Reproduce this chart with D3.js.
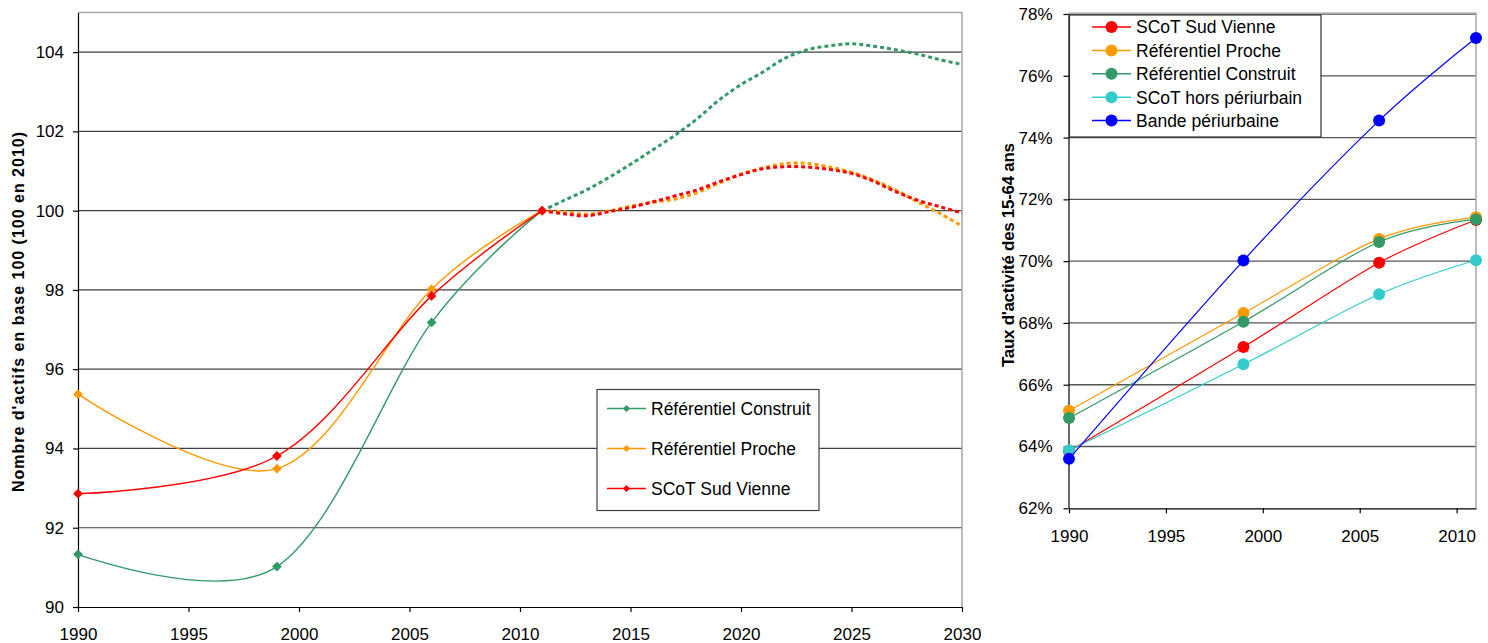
<!DOCTYPE html>
<html>
<head>
<meta charset="utf-8">
<script src="https://cdn.jsdelivr.net/npm/d3@7"></script>
<style>
  html, body { margin: 0; padding: 0; background: #fff; }
  svg { display: block; font-family: "Liberation Sans", Arial, sans-serif; }
</style>
</head>
<body>
<svg id="chart" width="1488" height="643"></svg>
<script>
// ---------- Left panel: number of workers, base 100 ----------
const censusYears = [1990, 1999, 2006, 2011];
const projectionYears = [2011, 2012, 2013, 2014, 2015, 2016, 2017, 2018, 2019, 2020,
                         2021, 2022, 2023, 2024, 2025, 2026, 2027, 2028, 2029, 2030];
const leftNames = ["Référentiel Construit", "Référentiel Proche", "SCoT Sud Vienne"];
const construitObserved = [91.33, 91.02, 97.18, 100];
const procheObserved    = [95.37, 93.49, 98.02, 100];
const scotObserved      = [92.86, 93.81, 97.85, 100];
const construitProjected = [100, 100.26, 100.52, 100.83, 101.17, 101.53, 101.90, 102.31, 102.79, 103.18,
                            103.50, 103.85, 104.06, 104.16, 104.21, 104.15, 104.06, 103.95, 103.81, 103.69];
const procheProjected    = [100, 99.97, 99.91, 99.99, 100.11, 100.21, 100.29, 100.45, 100.69, 100.92,
                            101.08, 101.19, 101.19, 101.10, 100.97, 100.77, 100.52, 100.22, 99.93, 99.61];
const scotProjected      = [100, 99.92, 99.87, 99.97, 100.08, 100.22, 100.37, 100.52, 100.73, 100.91,
                            101.06, 101.11, 101.10, 101.04, 100.94, 100.74, 100.48, 100.26, 100.10, 99.94];
const leftYTicks = [90, 92, 94, 96, 98, 100, 102, 104];
const leftXTicks = [1990, 1995, 2000, 2005, 2010, 2015, 2020, 2025, 2030];
const leftTitle = "Nombre d'actifs en base 100 (100 en 2010)";

// ---------- Right panel: activity rate of 15-64 year olds ----------
const rateYears = [1990, 1999, 2006, 2011];
const rightNames = ["SCoT Sud Vienne", "Référentiel Proche", "Référentiel Construit",
                    "SCoT hors périurbain", "Bande périurbaine"];
const rateScot      = [63.85, 67.22, 69.95, 71.33];
const rateProche    = [65.16, 68.32, 70.72, 71.42];
const rateConstruit = [64.92, 68.04, 70.62, 71.35];
const rateHorsPeri  = [63.87, 66.66, 68.93, 70.03];
const rateBande     = [63.60, 70.02, 74.55, 77.22];
const rightYTicks = [62, 64, 66, 68, 70, 72, 74, 76, 78];
const rightXTicks = [1990, 1995, 2000, 2005, 2010];
const rightTitle = "Taux d'activité des 15-64 ans";

// ---------- shared styling ----------
const RED = "#ff0000", ORANGE = "#ff9900", GREEN = "#339966", TEAL = "#33cccc", BLUE = "#0000ff";
const FONT = 17;

const svg = d3.select("#chart");
const smooth = d3.curveCardinal.tension(0);

function styleAxis(g, fontSize) {
  g.select(".domain").attr("stroke", "#000").attr("stroke-width", 1.2);
  g.selectAll(".tick line").attr("stroke", "#000").attr("stroke-width", 1.2);
  g.selectAll(".tick text").attr("fill", "#000").attr("font-size", fontSize)
    .attr("font-family", '"Liberation Sans", Arial, sans-serif');
}

// ================= LEFT PANEL =================
const L = { x0: 78, x1: 962, top: 105, y1: 607 };
const xL = d3.scaleLinear().domain([1990, 2030]).range([L.x0, L.x1]);
const yL = d3.scaleLinear().domain([90, 105]).range([L.y1, 12.5]);

const gL = svg.append("g");

gL.selectAll("line.grid").data(leftYTicks.filter(v => v > 90)).join("line")
  .attr("class", "grid")
  .attr("x1", L.x0).attr("x2", L.x1)
  .attr("y1", d => yL(d)).attr("y2", d => yL(d))
  .attr("stroke", "#404040").attr("stroke-width", 1.2);

gL.append("path")
  .attr("d", `M${L.x0},${yL(L.top)}H${L.x1}V${L.y1}`)
  .attr("fill", "none").attr("stroke", "#a6a6a6").attr("stroke-width", 1.5);

gL.append("g").attr("transform", `translate(${L.x0},0)`)
  .call(d3.axisLeft(yL).tickValues(leftYTicks).tickSize(5).tickSizeOuter(0).tickPadding(9)
    .tickFormat(d3.format("d")))
  .call(g => styleAxis(g, FONT));

gL.append("g").attr("transform", `translate(0,${L.y1})`)
  .call(d3.axisBottom(xL).tickValues(leftXTicks).tickSize(5).tickSizeOuter(0).tickPadding(16)
    .tickFormat(d3.format("d")))
  .call(g => styleAxis(g, FONT));

gL.append("text")
  .attr("transform", `translate(24,312) rotate(-90)`)
  .attr("text-anchor", "middle")
  .attr("font-weight", "bold").attr("font-size", 16)
  .attr("textLength", 360).attr("lengthAdjust", "spacing")
  .text(leftTitle);

const leftSeries = [
  { name: leftNames[0], color: GREEN,  obs: construitObserved, proj: construitProjected },
  { name: leftNames[1], color: ORANGE, obs: procheObserved,    proj: procheProjected },
  { name: leftNames[2], color: RED,    obs: scotObserved,      proj: scotProjected }
];
const lineL = d3.line().curve(smooth).x(d => xL(d[0])).y(d => yL(d[1]));
const diamond = size => d3.symbol(d3.symbolSquare, size)();

leftSeries.forEach(s => {
  const g = gL.append("g");
  g.append("path").datum(d3.zip(projectionYears, s.proj))
    .attr("d", lineL).attr("fill", "none")
    .attr("stroke", s.color).attr("stroke-width", 3).attr("stroke-dasharray", "4 3");
  g.append("path").datum(d3.zip(censusYears, s.obs))
    .attr("d", lineL).attr("fill", "none")
    .attr("stroke", s.color).attr("stroke-width", 1.4);
  g.selectAll("path.mk").data(d3.zip(censusYears, s.obs)).join("path")
    .attr("class", "mk")
    .attr("d", diamond(48))
    .attr("transform", d => `translate(${xL(d[0])},${yL(d[1])}) rotate(45)`)
    .attr("fill", s.color);
});

// legend (left)
const legL = gL.append("g");
legL.append("rect").attr("x", 597).attr("y", 389.5).attr("width", 222).attr("height", 121)
  .attr("fill", "#fff").attr("stroke", "#404040").attr("stroke-width", 1.2);
leftSeries.forEach((s, i) => {
  const yy = 408.5 + i * 40;
  legL.append("line").attr("x1", 607).attr("x2", 646).attr("y1", yy).attr("y2", yy)
    .attr("stroke", s.color).attr("stroke-width", 1.5);
  legL.append("path").attr("d", diamond(26))
    .attr("transform", `translate(626.5,${yy}) rotate(45)`).attr("fill", s.color);
  legL.append("text").attr("x", 651).attr("y", yy + 6.3)
    .attr("font-size", 17.5).attr("fill", "#000").text(s.name);
});

// ================= RIGHT PANEL =================
const R = { x0: 1068.5, x1: 1476 };
const xR = d3.scaleLinear().domain([1990, 2011]).range([1069, 1476]);
const yR = d3.scaleLinear().domain([62, 78]).range([508.3, 14]);

const gR = svg.append("g");

gR.selectAll("line.grid").data(rightYTicks.filter(v => v > 62)).join("line")
  .attr("class", "grid")
  .attr("x1", R.x0).attr("x2", R.x1)
  .attr("y1", d => yR(d)).attr("y2", d => yR(d))
  .attr("stroke", "#555").attr("stroke-width", 1.3);

gR.append("path")
  .attr("d", `M${R.x0},${yR(78) - 0.8}H${R.x1}V${yR(62)}`)
  .attr("fill", "none").attr("stroke", "#a6a6a6").attr("stroke-width", 1.5);

gR.append("g").attr("transform", `translate(${R.x0},0)`)
  .call(d3.axisLeft(yR).tickValues(rightYTicks).tickSize(5).tickSizeOuter(0).tickPadding(11)
    .tickFormat(d => d + "%"))
  .call(g => styleAxis(g, FONT));

gR.append("g").attr("transform", `translate(0,${yR(62)})`)
  .call(d3.axisBottom(xR).tickValues(rightXTicks).tickSize(5).tickSizeOuter(0).tickPadding(16.5)
    .tickFormat(d3.format("d")))
  .call(g => styleAxis(g, FONT));

gR.append("text")
  .attr("transform", `translate(1014,255) rotate(-90)`)
  .attr("text-anchor", "middle")
  .attr("font-weight", "bold").attr("font-size", 17)
  .attr("textLength", 224).attr("lengthAdjust", "spacing")
  .text(rightTitle);

const rightSeries = [
  { name: rightNames[0], color: RED,    values: rateScot },
  { name: rightNames[1], color: ORANGE, values: rateProche },
  { name: rightNames[2], color: GREEN,  values: rateConstruit },
  { name: rightNames[3], color: TEAL,   values: rateHorsPeri },
  { name: rightNames[4], color: BLUE,   values: rateBande }
];
const lineR = d3.line().curve(smooth).x(d => xR(d[0])).y(d => yR(d[1]));

rightSeries.forEach(s => {
  const g = gR.append("g");
  g.append("path").datum(d3.zip(rateYears, s.values))
    .attr("d", lineR).attr("fill", "none")
    .attr("stroke", s.color).attr("stroke-width", 1.2);
  g.selectAll("circle").data(d3.zip(rateYears, s.values)).join("circle")
    .attr("cx", d => xR(d[0])).attr("cy", d => yR(d[1])).attr("r", 6)
    .attr("fill", s.color);
});

// legend (right)
const legR = gR.append("g");
legR.append("rect").attr("x", 1069.5).attr("y", 15).attr("width", 251.5).attr("height", 122)
  .attr("fill", "#fff").attr("stroke", "#303030").attr("stroke-width", 1.2);
rightSeries.forEach((s, i) => {
  const yy = 27 + i * 23.4;
  legR.append("line").attr("x1", 1092).attr("x2", 1131).attr("y1", yy).attr("y2", yy)
    .attr("stroke", s.color).attr("stroke-width", 1.5);
  legR.append("circle").attr("cx", 1111.5).attr("cy", yy).attr("r", 6).attr("fill", s.color);
  legR.append("text").attr("x", 1136).attr("y", yy + 6.3)
    .attr("font-size", 17.5).attr("fill", "#000").text(s.name);
});
</script>
</body>
</html>
